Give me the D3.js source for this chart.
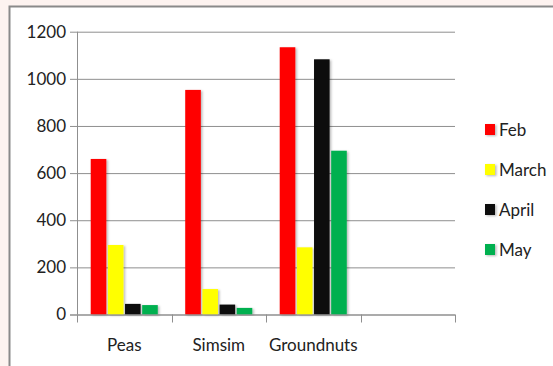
<!DOCTYPE html>
<html>
<head>
<meta charset="utf-8">
<script src="https://cdn.jsdelivr.net/npm/d3@7"></script>
<style>
  html, body { margin: 0; padding: 0; background: #fdf3f0; }
  svg { display: block; }
  text { font-family: Lato, "Open Sans", sans-serif; fill: #222222; }
</style>
</head>
<body>
<svg id="chart" width="553" height="366"></svg>
<script>
// Crops and monthly values
const categories = ["Peas", "Simsim", "Groundnuts", ""];
const months = ["Feb", "March", "April", "May"];
const feb   = [660, 953, 1134, null];
const march = [295, 108, 285, null];
const april = [45, 42, 1083, null];
const may   = [40, 28, 695, null];
const yTicks = [0, 200, 400, 600, 800, 1000, 1200];
const colors = ["#ff0000", "#ffff00", "#111111", "#00b050"];

const seriesValues = [feb, march, april, may];

const W = 553, H = 366;
const margin = { top: 31.7, left: 77, right: 98, bottom: 51.5 };
const plotW = W - margin.left - margin.right;
const plotH = H - margin.top - margin.bottom;
const FS = 17;

const svg = d3.select("#chart");

// drop shadow used by the bars and legend keys
const defs = svg.append("defs");
const f = defs.append("filter").attr("id", "shadow")
  .attr("x", "-30%").attr("y", "-10%").attr("width", "170%").attr("height", "130%");
f.append("feDropShadow").attr("dx", 1.5).attr("dy", 1).attr("stdDeviation", 1.2)
  .attr("flood-color", "#000").attr("flood-opacity", 0.28);

// chart frame: white panel with grey top/left edge on the pale backdrop
svg.append("rect").attr("x", 9).attr("y", 6).attr("width", W).attr("height", H)
  .attr("fill", "#ffffff");
svg.append("path").attr("d", `M9.5,${H + 5} V6.5 H${W + 5}`)
  .attr("fill", "none").attr("stroke", "#8a8a8a").attr("stroke-width", 2);

const g = svg.append("g").attr("transform", `translate(${margin.left},${margin.top})`);

const x0 = d3.scaleBand().domain(categories).range([0, plotW]).padding(0);
const x1 = d3.scaleBand().domain(months).range([0, x0.bandwidth()])
  .paddingInner(0.09).paddingOuter(0.8);
const y = d3.scaleLinear().domain([0, 1200]).range([plotH, 0]);

// horizontal gridlines with short outer ticks
const yAxis = d3.axisLeft(y).tickValues(yTicks).tickFormat(d3.format("d"))
  .tickSize(-(plotW)).tickSizeOuter(0).tickPadding(11);
const ya = g.append("g").call(yAxis);
ya.select(".domain").remove();
ya.selectAll(".tick line").attr("x1", -7).attr("stroke", "#8f8f8f");
ya.selectAll(".tick text").attr("font-size", FS).attr("fill", "#222222")
  .attr("font-family", "Lato, 'Open Sans', sans-serif");

// vertical axis line
g.append("line").attr("x1", 0.5).attr("x2", 0.5).attr("y1", 0).attr("y2", plotH)
  .attr("stroke", "#8f8f8f");

// bars
const groups = g.selectAll("g.cat").data(categories).join("g")
  .attr("class", "cat").attr("transform", d => `translate(${x0(d)},0)`);
groups.selectAll("rect")
  .data((c, ci) => months.map((m, mi) => ({ m, v: seriesValues[mi][ci], c: colors[mi] })).filter(d => d.v != null))
  .join("rect")
  .attr("x", d => x1(d.m))
  .attr("y", d => y(d.v))
  .attr("width", x1.bandwidth())
  .attr("height", d => plotH - y(d.v))
  .attr("fill", d => d.c)
  .attr("filter", "url(#shadow)");

// category axis with boundary ticks
const xa = g.append("g").attr("transform", `translate(0,${plotH})`);
xa.append("line").attr("x1", -7).attr("x2", plotW).attr("y1", 0.5).attr("y2", 0.5)
  .attr("stroke", "#8f8f8f");
const bounds = categories.map(c => x0(c)).concat([plotW]);
xa.selectAll("line.tk").data(bounds).join("line").attr("class", "tk")
  .attr("x1", d => Math.round(d) + 0.5).attr("x2", d => Math.round(d) + 0.5)
  .attr("y1", 0).attr("y2", 8).attr("stroke", "#8f8f8f");
xa.selectAll("text").data(categories).join("text")
  .attr("x", d => x0(d) + x0.bandwidth() / 2)
  .attr("y", 36)
  .attr("text-anchor", "middle")
  .attr("font-size", FS)
  .text(d => d);

// legend
const lg = svg.append("g").attr("transform", "translate(485,0)");
const items = lg.selectAll("g").data(months).join("g")
  .attr("transform", (d, i) => `translate(0,${124 + i * 40})`);
items.append("rect").attr("width", 10).attr("height", 11)
  .attr("fill", (d, i) => colors[i]).attr("filter", "url(#shadow)");
items.append("text").attr("x", 14).attr("y", 11.8).attr("font-size", FS).text(d => d);
</script>
</body>
</html>
